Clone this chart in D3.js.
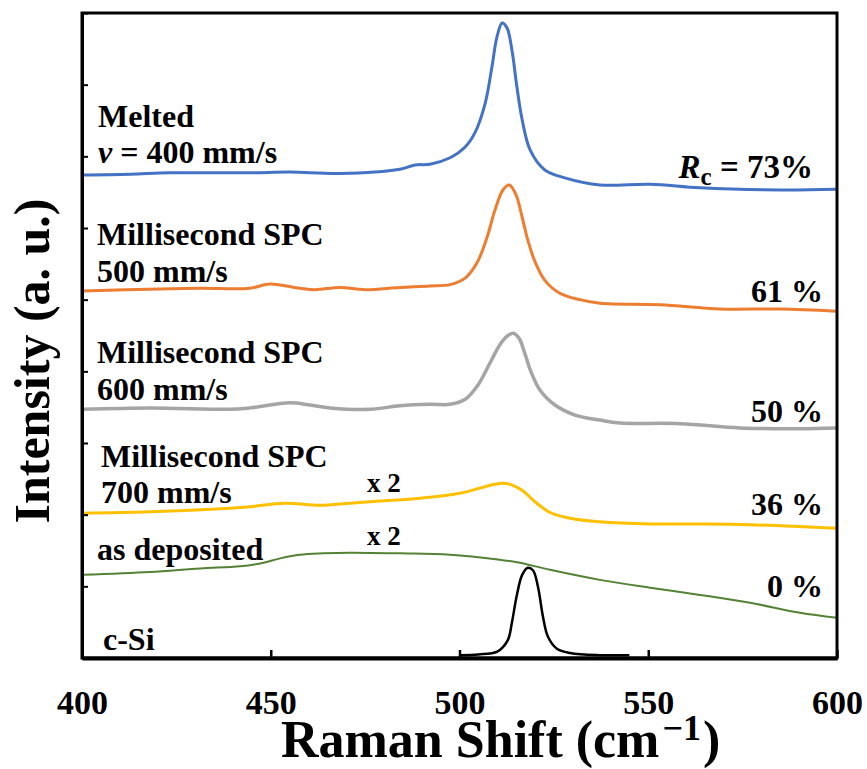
<!DOCTYPE html>
<html>
<head>
<meta charset="utf-8">
<script src="https://cdn.jsdelivr.net/npm/d3@7"></script>
<style>
  body { margin: 0; background: #fff; }
  svg { display: block; }
  text { font-family: "Liberation Serif", "Times New Roman", serif; font-weight: bold; fill: #000; }
</style>
</head>
<body>
<svg id="chart" width="867" height="769"></svg>
<script>
// Raman spectra, stacked with vertical offsets (arbitrary units)
const xTicks = [400, 450, 500, 550, 600];
const yTicks = [0, 1, 2, 3, 4, 5, 6, 7, 8, 9];

// [Raman shift (cm^-1), intensity (a.u., offset)]
const melted400 = [
  [400, 6.74], [412.7, 6.75], [423.3, 6.77], [444.5, 6.77], [455.1, 6.78], [468.3, 6.76],
  [484.2, 6.82], [488.2, 6.88], [492.2, 6.89], [497.5, 6.98], [501.5, 7.13], [504.1, 7.33],
  [506.8, 7.74], [508.6, 8.25], [509.9, 8.66], [511.3, 8.86], [512.6, 8.79], [513.9, 8.48],
  [515.2, 7.97], [516.6, 7.51], [518.7, 7.09], [522.6, 6.81], [527.9, 6.70], [537.2, 6.60],
  [550.5, 6.61], [563.7, 6.56], [584.9, 6.53], [600, 6.54]
];
const spc500 = [
  [400, 5.12], [420.7, 5.15], [431.3, 5.16], [444.5, 5.16], [449.8, 5.22], [457.7, 5.16],
  [461.7, 5.14], [468.3, 5.17], [475.0, 5.14], [484.2, 5.17], [492.2, 5.19], [497.5, 5.21],
  [501.5, 5.30], [504.6, 5.51], [507.3, 5.87], [509.4, 6.25], [511.5, 6.53], [513.2, 6.60],
  [515.0, 6.46], [516.6, 6.15], [518.1, 5.83], [520.0, 5.53], [522.6, 5.27], [526.6, 5.09],
  [531.9, 5.00], [537.2, 4.95], [553.1, 4.93], [569.0, 4.87], [584.9, 4.87], [600, 4.84]
];
const spc600 = [
  [400, 3.47], [418.0, 3.49], [439.2, 3.47], [444.5, 3.49], [455.1, 3.56], [460.4, 3.53],
  [465.7, 3.49], [476.3, 3.47], [484.2, 3.52], [492.2, 3.54], [497.5, 3.54], [501.5, 3.61],
  [504.9, 3.81], [508.1, 4.12], [510.7, 4.37], [512.6, 4.49], [514.2, 4.53], [515.8, 4.46],
  [517.3, 4.25], [518.9, 4.00], [521.3, 3.74], [525.3, 3.53], [530.6, 3.39], [537.2, 3.32],
  [542.5, 3.28], [558.4, 3.27], [574.3, 3.21], [590.2, 3.20], [600, 3.21]
];
const spc700 = [
  [400, 2.02], [418.0, 2.04], [439.2, 2.09], [444.5, 2.11], [453.8, 2.16], [463.0, 2.13],
  [471.0, 2.16], [478.9, 2.19], [489.5, 2.23], [500.1, 2.30], [505.4, 2.37], [509.0, 2.42],
  [511.5, 2.44], [513.6, 2.42], [516.6, 2.34], [520.0, 2.18], [524.0, 2.03], [529.3, 1.95],
  [537.2, 1.90], [550.5, 1.87], [563.7, 1.87], [577.0, 1.86], [600, 1.81]
];
const asDeposited = [
  [400, 1.16], [418.0, 1.20], [431.3, 1.25], [441.9, 1.28], [447.2, 1.32], [452.5, 1.39],
  [457.7, 1.44], [464.0, 1.46], [471.0, 1.47], [484.2, 1.46], [497.5, 1.44], [510.7, 1.37],
  [516.0, 1.33], [524.0, 1.23], [537.2, 1.09], [550.5, 0.98], [563.7, 0.88], [577.0, 0.77],
  [590.2, 0.63], [600, 0.56]
];
const cSi = [
  [500.1, 0.04], [505, 0.05], [510, 0.09], [512.8, 0.25], [513.9, 0.50], [515.2, 0.88],
  [516.6, 1.16], [518.1, 1.26], [519.5, 1.22], [520.8, 0.99], [522.1, 0.58], [523.4, 0.30],
  [525.8, 0.13], [529.3, 0.07], [537.2, 0.04], [545, 0.04]
];

const seriesNames = ["Melted", "Millisecond SPC 500", "Millisecond SPC 600", "Millisecond SPC 700", "as deposited", "c-Si"];
const seriesColors = ["#4472C4", "#ED7D31", "#A5A5A5", "#FFC000", "#548235", "#000000"];
const seriesData = [melted400, spc500, spc600, spc700, asDeposited, cSi];
const crystallinity = [73, 61, 50, 36, 0];

const svg = d3.select("#chart");
const plotLeft = 82, plotRight = 837, plotTop = 13, plotBottom = 658;

const x = d3.scaleLinear().domain([400, 600]).range([plotLeft, plotRight]);
const y = d3.scaleLinear().domain([0, 9]).range([plotBottom, plotTop]);

const line = d3.line()
  .x(d => x(d[0]))
  .y(d => y(d[1]))
  .curve(d3.curveCatmullRom.alpha(0.5));

const widths = [3, 3, 3.5, 3, 2, 2.5];
const plot = svg.append("g");
seriesData.forEach((data, i) => {
  plot.append("path")
    .datum(data)
    .attr("fill", "none")
    .attr("stroke", seriesColors[i])
    .attr("stroke-width", widths[i])
    .attr("stroke-linejoin", "round")
    .attr("d", line);
});

// frame
svg.append("rect")
  .attr("x", plotLeft).attr("y", plotTop)
  .attr("width", plotRight - plotLeft).attr("height", plotBottom - plotTop)
  .attr("fill", "none").attr("stroke", "#000").attr("stroke-width", 3);

// bottom axis, ticks pointing inward
const xAxis = svg.append("g")
  .attr("transform", `translate(0,${plotBottom})`)
  .call(d3.axisBottom(x).tickValues(xTicks).tickSizeInner(-8).tickSizeOuter(0).tickPadding(32).tickFormat(d3.format("d")));
xAxis.select(".domain").attr("stroke", "#000").attr("stroke-width", 4);
xAxis.selectAll(".tick line").attr("stroke", "#000").attr("stroke-width", 2.5);
xAxis.selectAll(".tick text")
  .attr("font-family", "Liberation Serif, Times New Roman, serif")
  .attr("font-weight", "bold")
  .attr("font-size", 34).attr("fill", "#000");

// left axis, inward ticks without labels
const yAxis = svg.append("g")
  .attr("transform", `translate(${plotLeft},0)`)
  .call(d3.axisLeft(y).tickValues(yTicks).tickSizeInner(-6).tickSizeOuter(0).tickFormat(""));
yAxis.select(".domain").attr("stroke", "#000").attr("stroke-width", 3);
yAxis.selectAll(".tick line").attr("stroke", "#000").attr("stroke-width", 2);

// axis titles
const xTitle = svg.append("text")
  .attr("x", 281).attr("y", 757)
  .attr("font-size", 52);
xTitle.append("tspan").text("Raman Shift (cm");
xTitle.append("tspan").attr("font-size", 36).attr("dx", 3).attr("dy", -17).text("\u22121");
xTitle.append("tspan").attr("dx", 2).attr("dy", 17).text(")");

svg.append("text")
  .attr("transform", "translate(49,361) rotate(-90)")
  .attr("text-anchor", "middle")
  .attr("font-size", 50)
  .text("Intensity (a. u.)");

// sample labels
const fs = 32;
const addLabel = (tx, ty, str) => svg.append("text").attr("x", tx).attr("y", ty).attr("font-size", fs).text(str);

addLabel(98, 127, "Melted");
const vLab = svg.append("text").attr("x", 98).attr("y", 163).attr("font-size", fs);
vLab.append("tspan").attr("font-style", "italic").text("v");
vLab.append("tspan").text(" = 400 mm/s");

addLabel(97, 245, "Millisecond SPC");
addLabel(97, 282, "500 mm/s");
addLabel(97, 363, "Millisecond SPC");
addLabel(97, 400, "600 mm/s");
addLabel(101, 467, "Millisecond SPC");
addLabel(101, 503, "700 mm/s");
addLabel(97, 560, "as deposited");
addLabel(103, 650, "c-Si");

const x2fs = 27;
svg.append("text").attr("x", 367).attr("y", 492).attr("font-size", x2fs).text("x 2");
svg.append("text").attr("x", 367).attr("y", 545).attr("font-size", x2fs).text("x 2");

// crystalline fraction labels, right-aligned
const rc = svg.append("text").attr("x", 813).attr("y", 178).attr("text-anchor", "end").attr("font-size", 33);
rc.append("tspan").attr("font-style", "italic").text("R");
rc.append("tspan").attr("font-size", 25).attr("dy", 7).text("c");
rc.append("tspan").attr("dy", -7).text(` = ${crystallinity[0]}%`);

const pctY = [302, 422, 515, 597];
crystallinity.slice(1).forEach((p, i) => {
  svg.append("text").attr("x", 823).attr("y", pctY[i]).attr("text-anchor", "end")
    .attr("font-size", fs).text(`${p} %`);
});
</script>
</body>
</html>
